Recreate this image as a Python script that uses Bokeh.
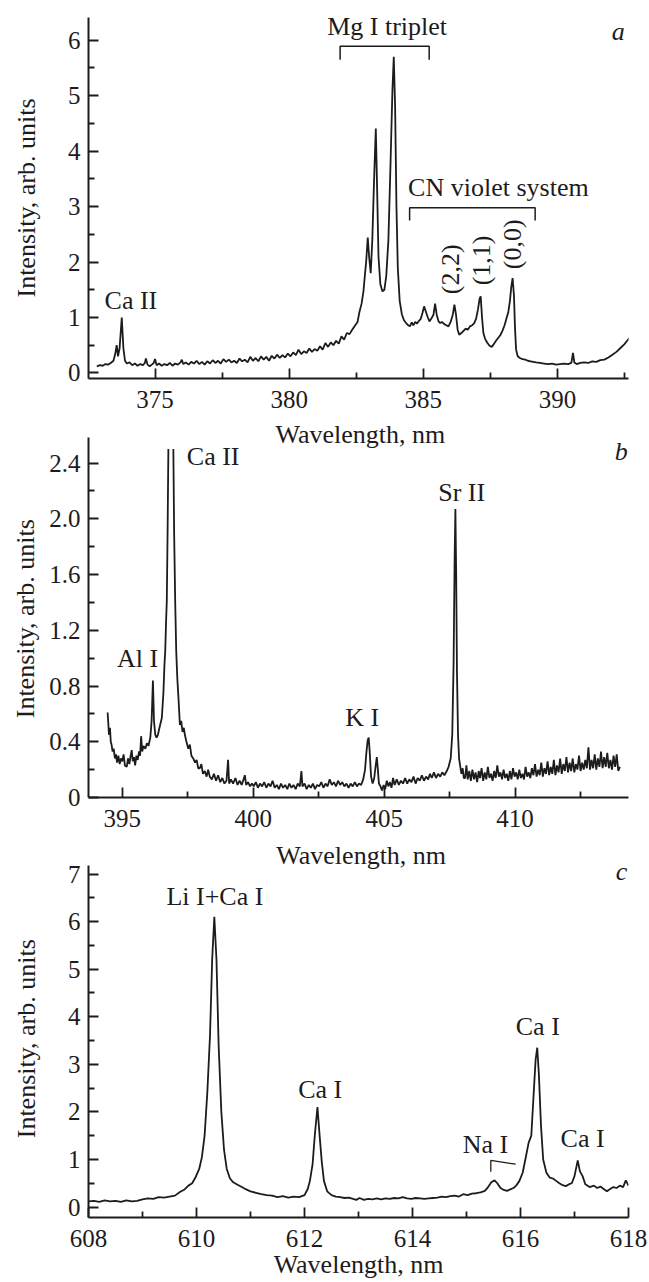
import math
from bokeh.plotting import figure
from bokeh.layouts import column
from bokeh.models import FixedTicker, Label, NumeralTickFormatter
from bokeh.embed import file_html
from bokeh.resources import INLINE

FONT = "Liberation Serif"
INK = "#1e1b1c"

# ---------------- panel a : 372.5 - 392.7 nm ----------------
a_wl = [372.83, 372.95, 373.05, 373.15, 373.25, 373.35, 373.45, 373.52, 373.57, 373.62,
        373.68, 373.76, 373.82, 373.88, 373.95, 374.05, 374.15, 374.25, 374.35, 374.45,
        374.55, 374.62, 374.66, 374.72, 374.80, 374.88, 374.95, 375.00, 375.06, 375.15,
        375.25, 375.35, 375.45, 375.55, 375.65, 375.75, 375.85, 375.95, 376.00, 376.05,
        376.15, 376.25, 376.35, 376.45, 376.55, 376.65, 376.75, 376.85, 376.95, 377.05,
        377.15, 377.25, 377.35, 377.45, 377.55, 377.65, 377.75, 377.85, 377.95, 378.05,
        378.15, 378.25, 378.35, 378.45, 378.55, 378.65, 378.75, 378.85, 378.95, 379.05,
        379.15, 379.25, 379.35, 379.45, 379.55, 379.65, 379.75, 379.85, 379.95, 380.05,
        380.15, 380.25, 380.35, 380.45, 380.55, 380.65, 380.75, 380.85, 380.95, 381.05,
        381.15, 381.25, 381.35, 381.45, 381.55, 381.65, 381.75, 381.85, 381.95, 382.05,
        382.15, 382.25, 382.35, 382.45, 382.55, 382.62, 382.70, 382.77, 382.83, 382.87,
        382.93, 382.98, 383.04, 383.10, 383.16, 383.23, 383.28, 383.33, 383.40, 383.48,
        383.55, 383.62, 383.70, 383.78, 383.85, 383.90, 383.95, 384.00, 384.05, 384.12,
        384.20, 384.28, 384.36, 384.44, 384.50, 384.57, 384.63, 384.70, 384.77, 384.82,
        384.90, 384.97, 385.03, 385.10, 385.17, 385.23, 385.30, 385.38, 385.44, 385.50,
        385.57, 385.63, 385.70, 385.78, 385.86, 385.94, 386.02, 386.10, 386.16, 386.22,
        386.28, 386.34, 386.42, 386.50, 386.58, 386.66, 386.74, 386.82, 386.90, 386.97,
        387.04, 387.10, 387.14, 387.19, 387.24, 387.30, 387.38, 387.47, 387.55, 387.63,
        387.71, 387.79, 387.87, 387.95, 388.03, 388.10, 388.17, 388.23, 388.28, 388.33,
        388.38, 388.42, 388.46, 388.52, 388.60, 388.70, 388.80, 388.90, 389.00, 389.10,
        389.20, 389.35, 389.50, 389.65, 389.80, 389.95, 390.10, 390.25, 390.40, 390.52,
        390.58, 390.63, 390.72, 390.85, 391.00, 391.15, 391.30, 391.45, 391.60, 391.75,
        391.90, 392.05, 392.20, 392.35, 392.50, 392.60, 392.70]
a_int = [0.12, 0.14, 0.13, 0.16, 0.15, 0.18, 0.22, 0.35, 0.50, 0.30,
         0.45, 1.00, 0.45, 0.22, 0.17, 0.19, 0.14, 0.17, 0.13, 0.16,
         0.14, 0.18, 0.26, 0.15, 0.12, 0.15, 0.18, 0.25, 0.14, 0.17,
         0.13, 0.16, 0.14, 0.18, 0.13, 0.17, 0.15, 0.19, 0.24, 0.16,
         0.19, 0.15, 0.20, 0.17, 0.22, 0.16, 0.20, 0.15, 0.21, 0.17,
         0.23, 0.18, 0.22, 0.17, 0.25, 0.20, 0.24, 0.19, 0.22, 0.18,
         0.26, 0.21, 0.24, 0.19, 0.29, 0.22, 0.27, 0.21, 0.30, 0.24,
         0.29, 0.22, 0.31, 0.26, 0.33, 0.27, 0.32, 0.28, 0.35, 0.30,
         0.37, 0.32, 0.42, 0.34, 0.39, 0.36, 0.44, 0.38, 0.43, 0.40,
         0.48, 0.42, 0.54, 0.47, 0.55, 0.50, 0.58, 0.53, 0.66, 0.60,
         0.72, 0.70, 0.78, 0.85, 0.92, 1.10, 1.25, 1.47, 1.80, 2.00,
         2.44, 2.10, 1.80, 2.40, 3.40, 4.41, 3.30, 2.10, 1.60, 1.47,
         1.50, 1.75, 2.40, 3.80, 5.10, 5.70, 4.80, 3.00, 1.90, 1.30,
         1.06, 0.95, 0.90, 0.86, 0.84, 0.91, 0.86, 0.92, 0.89, 0.93,
         0.97, 1.08, 1.20, 1.10, 1.00, 0.93, 0.98, 1.05, 1.25, 1.05,
         0.93, 0.90, 0.92, 0.88, 0.86, 0.84, 0.92, 1.05, 1.23, 1.05,
         0.78, 0.69, 0.72, 0.76, 0.80, 0.78, 0.84, 0.86, 0.90, 0.98,
         1.15, 1.34, 1.38, 1.00, 0.72, 0.62, 0.55, 0.49, 0.47, 0.52,
         0.58, 0.63, 0.68, 0.76, 0.86, 0.98, 1.10, 1.30, 1.55, 1.71,
         1.40, 0.80, 0.42, 0.30, 0.27, 0.25, 0.24, 0.22, 0.21, 0.20,
         0.19, 0.18, 0.17, 0.16, 0.17, 0.15, 0.16, 0.17, 0.16, 0.18,
         0.36, 0.19, 0.16, 0.18, 0.19, 0.18, 0.21, 0.20, 0.23, 0.24,
         0.28, 0.33, 0.38, 0.45, 0.52, 0.58, 0.64]
a_x_ticks = [375, 380, 385, 390]
a_x_minor = [377.5, 382.5, 387.5, 392.5]
a_y_ticks = [0, 1, 2, 3, 4, 5, 6]
a_y_minor = [0.5, 1.5, 2.5, 3.5, 4.5, 5.5]
a_text = ["Ca II", "Mg I triplet", "CN violet system"]
a_text_x = [374.1, 383.65, 387.8]
a_text_y = [1.30, 6.25, 3.35]
a_band_text = ["(2,2)", "(1,1)", "(0,0)"]
a_band_x = [386.0, 387.16, 388.33]
a_band_y = [1.87, 2.03, 2.32]
a_mg_bracket_x = [381.9, 381.9, 385.22, 385.22]
a_mg_bracket_y = [5.65, 5.89, 5.89, 5.65]
a_cn_bracket_x = [384.49, 384.49, 389.17, 389.17]
a_cn_bracket_y = [2.75, 2.98, 2.98, 2.75]

# ---------------- panel b : 393.7 - 414.3 nm ----------------
NAN = float("nan")
b_wl = [394.44, 394.47, 394.49, 394.53, 394.56, 394.59, 394.63, 394.67, 394.72, 394.76,
        394.80, 394.85, 394.90, 394.95, 395.00, 395.05, 395.10, 395.17, 395.22, 395.27,
        395.32, 395.36, 395.40, 395.45, 395.49, 395.54, 395.59, 395.64, 395.68, 395.72,
        395.76, 395.81, 395.88, 395.94, 396.00, 396.07, 396.12, 396.17, 396.21, 396.26,
        396.31, 396.36, 396.42, 396.47, 396.51, 396.57, 396.61, 396.64, 396.67, 396.70,
        396.73, 396.76, NAN, 396.95, 396.98, 397.02, 397.06, 397.10, 397.15, 397.20,
        397.25, 397.30, 397.35, 397.39, 397.45, 397.52, 397.58, 397.64, 397.71, 397.78,
        397.84, 397.90, 397.96, 398.02, 398.08, 398.15, 398.22, 398.28, 398.34, 398.42,
        398.50, 398.58, 398.66, 398.74, 398.82, 398.90, 398.98, 399.04, 399.08, 399.15,
        399.23, 399.32, 399.40, 399.48, 399.56, 399.63, 399.68, 399.73, 399.80, 399.88,
        399.95, 400.02, 400.10, 400.18, 400.26, 400.34, 400.42, 400.50, 400.58, 400.66,
        400.74, 400.82, 400.90, 400.98, 401.06, 401.14, 401.22, 401.30, 401.38, 401.46,
        401.54, 401.62, 401.70, 401.78, 401.84, 401.88, 401.96, 402.04, 402.12, 402.20,
        402.28, 402.36, 402.44, 402.52, 402.60, 402.68, 402.76, 402.84, 402.92, 403.00,
        403.08, 403.16, 403.24, 403.32, 403.40, 403.48, 403.56, 403.64, 403.72, 403.80,
        403.88, 403.96, 404.04, 404.12, 404.20, 404.27, 404.32, 404.37, 404.41, 404.45,
        404.50, 404.56, 404.62, 404.67, 404.72, 404.76, 404.80, 404.86, 404.92, 404.98,
        405.04, 405.10, 405.16, 405.22, 405.28, 405.34, 405.40, 405.48, 405.56, 405.64,
        405.72, 405.80, 405.88, 405.96, 406.04, 406.12, 406.20, 406.28, 406.36, 406.44,
        406.52, 406.60, 406.68, 406.75, 406.82, 406.90, 406.98, 407.06, 407.14, 407.22,
        407.30, 407.39, 407.46, 407.54, 407.60, 407.65, 407.69, 407.72, 407.75, 407.78,
        407.82, 407.86, 407.90, 407.95, 408.00, 408.04, 408.09, 408.14, 408.19, 408.25,
        408.31, 408.37, 408.43, 408.49, 408.55, 408.61, 408.66, 408.72, 408.78, 408.84,
        408.90, 408.96, 409.02, 409.08, 409.14, 409.20, 409.26, 409.32, 409.38, 409.44,
        409.50, 409.56, 409.62, 409.68, 409.74, 409.80, 409.86, 409.92, 409.98, 410.04,
        410.10, 410.16, 410.22, 410.28, 410.34, 410.40, 410.46, 410.52, 410.58, 410.64,
        410.70, 410.76, 410.82, 410.88, 410.94, 411.00, 411.06, 411.12, 411.18, 411.24,
        411.30, 411.36, 411.42, 411.48, 411.54, 411.60, 411.66, 411.72, 411.78, 411.84,
        411.90, 411.96, 412.02, 412.08, 412.14, 412.20, 412.26, 412.32, 412.38, 412.44,
        412.50, 412.56, 412.62, 412.68, 412.74, 412.80, 412.86, 412.92, 412.98, 413.04,
        413.10, 413.16, 413.22, 413.28, 413.34, 413.40, 413.46, 413.52, 413.58, 413.64,
        413.70, 413.76, 413.82, 413.88, 413.94, 414.00]
b_int = [0.61, 0.52, 0.45, 0.50, 0.40, 0.38, 0.33, 0.35, 0.28, 0.31,
         0.25, 0.30, 0.24, 0.28, 0.26, 0.31, 0.23, 0.22, 0.28, 0.24,
         0.30, 0.34, 0.26, 0.29, 0.23, 0.30, 0.27, 0.33, 0.30, 0.44,
         0.33, 0.37, 0.35, 0.39, 0.37, 0.43, 0.55, 0.84, 0.55, 0.45,
         0.43, 0.45, 0.50, 0.54, 0.57, 0.75, 0.95, 1.05, 1.25, 1.41,
         1.90, 2.50, NAN, 2.50, 1.90, 1.41, 1.05, 0.86, 0.70, 0.52,
         0.55, 0.47, 0.50, 0.45, 0.40, 0.35, 0.38, 0.30, 0.28, 0.25,
         0.27, 0.21, 0.21, 0.24, 0.17, 0.19, 0.15, 0.20, 0.15, 0.13,
         0.17, 0.12, 0.16, 0.11, 0.14, 0.10, 0.12, 0.27, 0.10, 0.13,
         0.10, 0.14, 0.09, 0.12, 0.09, 0.13, 0.16, 0.09, 0.11, 0.08,
         0.10, 0.08, 0.11, 0.07, 0.10, 0.08, 0.11, 0.07, 0.10, 0.08,
         0.12, 0.07, 0.09, 0.06, 0.10, 0.07, 0.09, 0.06, 0.10, 0.07,
         0.09, 0.06, 0.10, 0.08, 0.19, 0.08, 0.10, 0.06, 0.09, 0.07,
         0.10, 0.06, 0.09, 0.08, 0.11, 0.07, 0.10, 0.08, 0.13, 0.09,
         0.11, 0.08, 0.12, 0.09, 0.11, 0.08, 0.10, 0.07, 0.10, 0.08,
         0.11, 0.08, 0.10, 0.09, 0.13, 0.20, 0.32, 0.41, 0.43, 0.32,
         0.15, 0.10, 0.14, 0.22, 0.29, 0.20, 0.10, 0.08, 0.05, 0.09,
         0.06, 0.12, 0.08, 0.11, 0.07, 0.14, 0.09, 0.13, 0.09, 0.12,
         0.10, 0.14, 0.10, 0.13, 0.11, 0.15, 0.10, 0.14, 0.12, 0.16,
         0.12, 0.15, 0.13, 0.17, 0.14, 0.18, 0.14, 0.17, 0.15, 0.18,
         0.16, 0.19, 0.22, 0.28, 0.45, 0.95, 1.70, 2.07, 1.60, 0.90,
         0.45, 0.28, 0.23, 0.17, 0.21, 0.14, 0.14, 0.23, 0.13, 0.19,
         0.12, 0.20, 0.13, 0.18, 0.11, 0.19, 0.14, 0.21, 0.12, 0.18,
         0.13, 0.22, 0.14, 0.17, 0.12, 0.19, 0.14, 0.23, 0.15, 0.18,
         0.13, 0.20, 0.14, 0.17, 0.12, 0.19, 0.13, 0.21, 0.15, 0.18,
         0.13, 0.20, 0.14, 0.17, 0.13, 0.22, 0.15, 0.18, 0.14, 0.21,
         0.16, 0.24, 0.15, 0.20, 0.16, 0.25, 0.15, 0.21, 0.17, 0.26,
         0.16, 0.22, 0.17, 0.27, 0.16, 0.23, 0.18, 0.28, 0.17, 0.24,
         0.19, 0.29, 0.18, 0.25, 0.19, 0.28, 0.18, 0.24, 0.20, 0.30,
         0.19, 0.25, 0.20, 0.27, 0.21, 0.36, 0.20, 0.27, 0.21, 0.31,
         0.20, 0.28, 0.22, 0.33, 0.21, 0.29, 0.22, 0.32, 0.21, 0.27,
         0.20, 0.30, 0.22, 0.31, 0.19, 0.22]
b_x_ticks = [395, 400, 405, 410]
b_x_minor = [397.5, 402.5, 407.5, 412.5]
b_y_ticks = [0, 0.4, 0.8, 1.2, 1.6, 2.0, 2.4]
b_y_minor = [0.2, 0.6, 1.0, 1.4, 1.8, 2.2]
b_text = ["Al I", "Ca II", "K I", "Sr II"]
b_text_x = [395.58, 398.47, 404.16, 407.96]
b_text_y = [0.995, 2.445, 0.575, 2.185]

# ---------------- panel c : 608 - 618 nm ----------------
c_wl = [608.00, 608.10, 608.20, 608.30, 608.40, 608.50, 608.60, 608.70, 608.80, 608.90,
        609.00, 609.10, 609.20, 609.30, 609.40, 609.50, 609.60, 609.70, 609.78, 609.85,
        609.92, 609.98, 610.05, 610.10, 610.15, 610.20, 610.25, 610.29, 610.33, 610.37,
        610.41, 610.46, 610.51, 610.56, 610.62, 610.68, 610.76, 610.84, 610.92, 611.00,
        611.10, 611.20, 611.30, 611.40, 611.50, 611.60, 611.70, 611.80, 611.90, 612.00,
        612.06, 612.10, 612.15, 612.19, 612.24, 612.28, 612.32, 612.36, 612.42, 612.50,
        612.58, 612.66, 612.74, 612.82, 612.90, 612.96, 613.02, 613.10, 613.18, 613.26,
        613.34, 613.42, 613.50, 613.58, 613.66, 613.74, 613.82, 613.90, 613.98, 614.06,
        614.14, 614.22, 614.30, 614.38, 614.46, 614.54, 614.62, 614.70, 614.78, 614.86,
        614.94, 615.02, 615.10, 615.18, 615.26, 615.34, 615.40, 615.46, 615.52, 615.57,
        615.63, 615.69, 615.75, 615.81, 615.87, 615.92, 615.98, 616.04, 616.09, 616.15,
        616.20, 616.24, 616.28, 616.31, 616.34, 616.38, 616.42, 616.48, 616.54, 616.60,
        616.66, 616.72, 616.78, 616.84, 616.90, 616.95, 617.00, 617.06, 617.10, 617.15,
        617.20, 617.28, 617.36, 617.42, 617.48, 617.54, 617.60, 617.66, 617.72, 617.78,
        617.84, 617.90, 617.95, 618.00]
c_int = [0.12, 0.13, 0.11, 0.14, 0.12, 0.13, 0.11, 0.14, 0.12, 0.13,
         0.16, 0.18, 0.17, 0.21, 0.20, 0.22, 0.24, 0.32, 0.37, 0.45,
         0.50, 0.62, 0.80, 1.05, 1.50, 2.40, 3.60, 5.20, 6.10, 5.20,
         3.40, 2.00, 1.20, 0.80, 0.60, 0.52, 0.47, 0.42, 0.37, 0.33,
         0.30, 0.27, 0.25, 0.24, 0.21, 0.23, 0.20, 0.22, 0.21, 0.25,
         0.38, 0.55, 0.90, 1.50, 2.10, 1.50, 0.95, 0.55, 0.33, 0.25,
         0.22, 0.21, 0.19, 0.20, 0.17, 0.15, 0.19, 0.15, 0.17, 0.16,
         0.18, 0.16, 0.18, 0.17, 0.19, 0.18, 0.21, 0.18, 0.17, 0.19,
         0.18, 0.17, 0.18, 0.19, 0.20, 0.22, 0.21, 0.23, 0.24, 0.22,
         0.27, 0.25, 0.28, 0.29, 0.31, 0.34, 0.42, 0.52, 0.56, 0.50,
         0.40, 0.36, 0.34, 0.37, 0.40, 0.45, 0.55, 0.72, 1.00, 1.35,
         1.50, 2.30, 3.10, 3.35, 2.80, 1.70, 1.00, 0.72, 0.62, 0.60,
         0.55, 0.50, 0.46, 0.44, 0.48, 0.50, 0.65, 0.98, 0.75, 0.65,
         0.48, 0.42, 0.45, 0.40, 0.43, 0.38, 0.33, 0.38, 0.42, 0.40,
         0.45, 0.42, 0.56, 0.45]
c_x_ticks = [608, 610, 612, 614, 616, 618]
c_x_minor = [609, 611, 613, 615, 617]
c_y_ticks = [0, 1, 2, 3, 4, 5, 6, 7]
c_y_minor = [0.5, 1.5, 2.5, 3.5, 4.5, 5.5, 6.5]
c_text = ["Li I+Ca I", "Ca I", "Na I", "Ca I", "Ca I"]
c_text_x = [610.34, 612.29, 615.35, 616.32, 617.15]
c_text_y = [6.53, 2.47, 1.31, 3.80, 1.45]
c_na_bracket_x = [615.45, 615.45, 615.91]
c_na_bracket_y = [0.74, 0.98, 0.90]

X_TITLE = "Wavelength, nm"
Y_TITLE = "Intensity, arb. units"
NBSP = "\u00a0"


def make_panel(xr, yr, ybounds, top, frame_h, bottom, xt, xm, yt, ym, ylab_standoff, ypad=0):
    p = figure(width=649, height=top + frame_h + bottom, x_range=xr, y_range=yr,
               output_backend="svg", toolbar_location=None,
               min_border_left=88, min_border_right=21,
               min_border_top=top, min_border_bottom=bottom)
    p.grid.visible = False
    p.outline_line_color = None
    p.background_fill_color = "white"
    p.border_fill_color = "white"
    for ax in (p.xaxis[0], p.yaxis[0]):
        ax.axis_line_color = INK
        ax.axis_line_width = 2
        ax.major_tick_line_color = INK
        ax.major_tick_line_width = 1.8
        ax.minor_tick_line_color = INK
        ax.minor_tick_line_width = 1.8
        ax.major_tick_in = 10
        ax.major_tick_out = 0
        ax.minor_tick_in = 6
        ax.minor_tick_out = 0
        ax.major_label_text_font = FONT
        ax.major_label_text_font_size = "25px"
        ax.major_label_text_color = INK
        ax.axis_label_text_font = FONT
        ax.axis_label_text_font_size = "26px"
        ax.axis_label_text_font_style = "normal"
        ax.axis_label_text_color = INK
    p.xaxis[0].ticker = FixedTicker(ticks=xt, minor_ticks=xm)
    p.yaxis[0].ticker = FixedTicker(ticks=yt, minor_ticks=ym)
    p.yaxis[0].bounds = ybounds
    p.xaxis[0].major_label_standoff = 12
    p.yaxis[0].major_label_standoff = 8
    # trailing no-break spaces keep the title centred on the drawn axis line
    p.yaxis[0].axis_label = Y_TITLE + NBSP * ypad
    p.yaxis[0].axis_label_standoff = ylab_standoff
    return p


def add_label(p, x, y, text, angle=0.0, italic=False, baseline="alphabetic"):
    p.add_layout(Label(x=x, y=y, text=text, angle=angle, text_align="center",
                       text_baseline=baseline, text_font=FONT, text_font_size="26px",
                       text_font_style="italic" if italic else "normal",
                       text_color=INK))


LW = 1.8

# panel a (canvas 0-420)
pa = make_panel((372.52, 392.65), (-0.1, 6.41), (-0.1, 6.41), 17, 361, 42,
                a_x_ticks, a_x_minor, a_y_ticks, a_y_minor, 24)
pa.line(a_wl, a_int, line_width=LW, color=INK)
pa.line(a_mg_bracket_x, a_mg_bracket_y, line_width=1.5, color=INK)
pa.line(a_cn_bracket_x, a_cn_bracket_y, line_width=1.5, color=INK)
for t, x, y in zip(a_text, a_text_x, a_text_y):
    add_label(pa, x, y, t)
for t, x, y in zip(a_band_text, a_band_x, a_band_y):
    add_label(pa, x, y, t, angle=math.pi / 2, baseline="middle")
add_label(pa, 392.27, 6.15, "a", italic=True)

# panel b (canvas 420-840); frame reaches the canvas top so that the
# x title of panel a can sit inside it, the axis line stops at 2.585
pb = make_panel((393.71, 414.33), (0, 2.705), (0, 2.585), 0, 377, 43,
                b_x_ticks, b_x_minor, b_y_ticks, b_y_minor, 6, ypad=3)
pb.yaxis[0].formatter = NumeralTickFormatter(format="0.0")
pb.yaxis[0].major_label_overrides = {0: "0"}
pb.line(b_wl, b_int, line_width=LW, color=INK)
for t, x, y in zip(b_text, b_text_x, b_text_y):
    add_label(pb, x, y, t)
add_label(pb, 414.05, 2.485, "b", italic=True)
add_label(pb, 404.09, 2.606, X_TITLE)   # x title of panel a

# panel c (canvas 840-1282)
pc = make_panel((608, 618), (-0.22, 7.706), (-0.22, 7.18), 0, 377, 65,
                c_x_ticks, c_x_minor, c_y_ticks, c_y_minor, 24, ypad=3)
pc.line(c_wl, c_int, line_width=LW, color=INK)
pc.line(c_na_bracket_x, c_na_bracket_y, line_width=1.3, color=INK)
for t, x, y in zip(c_text, c_text_x, c_text_y):
    add_label(pc, x, y, t)
add_label(pc, 617.87, 7.05, "c", italic=True)
add_label(pc, 613.05, 7.40, X_TITLE)   # x title of panel b
pc.xaxis[0].axis_label = X_TITLE
pc.xaxis[0].axis_label_standoff = 0

layout = column(pa, pb, pc, spacing=0)
open("out.html", "w").write(file_html(layout, INLINE))
